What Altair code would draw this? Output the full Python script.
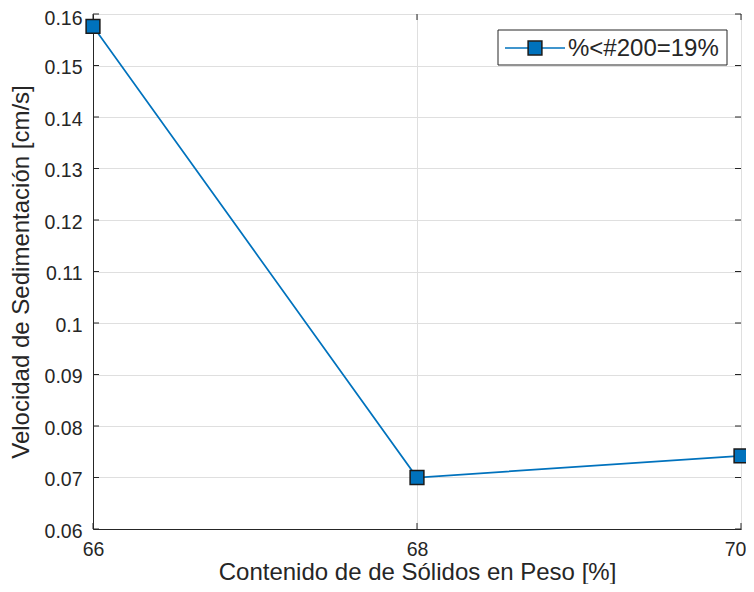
import altair as alt
import pandas as pd

# ---- data ----
solidos = [66, 68, 70]
velocidad = [0.1576, 0.0700, 0.0742]
serie = "%<#200=19%"
x_ticks = [66, 68, 70]
y_ticks = [0.06, 0.07, 0.08, 0.09, 0.1, 0.11, 0.12, 0.13, 0.14, 0.15, 0.16]

W, H = 648, 515
BLUE = "#0072BD"
DARK = "#262626"
FONT = "Liberation Sans"

df = pd.DataFrame({"x": solidos, "y": velocidad, "serie": [serie] * len(solidos)})
dfx = pd.DataFrame({"x": x_ticks})
dfy = pd.DataFrame({"y": y_ticks})
dfl = pd.DataFrame({"serie": [serie]})

xs = alt.Scale(domain=[66, 70], nice=False, zero=False)
ys = alt.Scale(domain=[0.06, 0.16], nice=False, zero=False)

x_axis = alt.Axis(
    values=x_ticks, format="d", grid=True, ticks=False, labelFlush=False,
    labelFontSize=19.5, labelPadding=11, labelColor=DARK, labelFont=FONT,
    labelOffset={"expr": "datum.value == 70 ? -6 : 0"},
    title="Contenido de de Sólidos en Peso [%]", titleFontSize=24,
    titleFontWeight="normal", titleColor=DARK, titleFont=FONT,
    titleY=50, titleBaseline="alphabetic",
)
y_axis = alt.Axis(
    values=y_ticks, format="~g", grid=True, ticks=False, labelFlush=False,
    labelFontSize=19.5, labelPadding=11,
    labelOffset={"expr": "datum.value > 0.155 ? 4 : 2"},
    labelColor=DARK, labelFont=FONT,
    title="Velocidad de Sedimentación [cm/s]", titleFontSize=24,
    titleFontWeight="normal", titleColor=DARK, titleFont=FONT,
    titleX=-60, titleY=257.5, titleBaseline="bottom",
)

line = alt.Chart(df).mark_line(color=BLUE, strokeWidth=1.7).encode(
    x=alt.X("x:Q", scale=xs, axis=x_axis),
    y=alt.Y("y:Q", scale=ys, axis=y_axis),
)
pts = alt.Chart(df).mark_square(
    size=190, fill=BLUE, stroke="#1a1a1a", strokeWidth=1.5, opacity=1
).encode(x=alt.X("x:Q", scale=xs), y=alt.Y("y:Q", scale=ys))

# inner ticks (MATLAB style, on all four sides)
tk_left = alt.Chart(dfy).mark_rule(color=DARK, strokeWidth=1).encode(
    y=alt.Y("y:Q", scale=ys), x=alt.value(0), x2=alt.value(6))
tk_right = alt.Chart(dfy).mark_rule(color=DARK, strokeWidth=1).encode(
    y=alt.Y("y:Q", scale=ys), x=alt.value(W - 6), x2=alt.value(W))
tk_bot = alt.Chart(dfx).mark_rule(color=DARK, strokeWidth=1).encode(
    x=alt.X("x:Q", scale=xs), y=alt.value(H - 6), y2=alt.value(H))
tk_top = alt.Chart(dfx).mark_rule(color=DARK, strokeWidth=1).encode(
    x=alt.X("x:Q", scale=xs), y=alt.value(0), y2=alt.value(6))

# legend box drawn by hand
leg_box = alt.Chart(dfl).mark_rect(fill="white", stroke=DARK, strokeWidth=1).encode(
    x=alt.value(405), x2=alt.value(634), y=alt.value(16), y2=alt.value(51))
leg_line = alt.Chart(dfl).mark_rule(color=BLUE, strokeWidth=1.7).encode(
    x=alt.value(412), x2=alt.value(472), y=alt.value(34))
leg_pt = alt.Chart(dfl).mark_square(
    size=190, fill=BLUE, stroke="#1a1a1a", strokeWidth=1.5, opacity=1
).encode(x=alt.value(442), y=alt.value(34))
leg_txt = alt.Chart(dfl).mark_text(
    align="left", baseline="middle", fontSize=24, font=FONT, color=DARK
).encode(x=alt.value(475), y=alt.value(35), text="serie:N")

chart = alt.layer(
    line, tk_left, tk_right, tk_bot, tk_top, pts, leg_box, leg_line, leg_pt, leg_txt
).properties(
    width=W, height=H,
    autosize=alt.AutoSizeParams(type="none"),
    padding={"left": 85, "top": 6, "right": 5, "bottom": 55},
).configure_view(
    stroke=DARK, strokeWidth=1
).configure_axis(
    gridColor="#dfdfdf", gridWidth=1, domainColor=DARK, domainWidth=1,
)

chart.save("out.html", embed_options={"renderer": "svg", "actions": False})
